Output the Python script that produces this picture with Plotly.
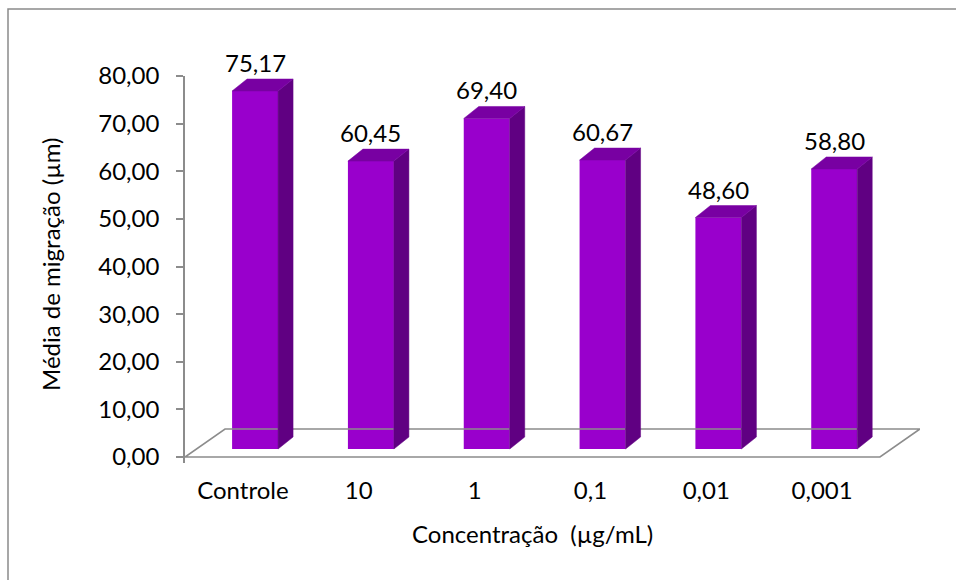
import plotly.graph_objects as go

# ---- data ----
categories = ["Controle", "10", "1", "0,1", "0,01", "0,001"]
values = [75.17, 60.45, 69.40, 60.67, 48.60, 58.80]
y_ticks = [0, 10, 20, 30, 40, 50, 60, 70, 80]

# ---- geometry (style constants, in axis units) ----
CAT_PX = 115.8          # px per category
Y_PX = 4.7625           # px per y unit
BAR_SHIFT = 0.105       # front face shift to the right (depth)
BAR_W = 0.397
BASE = 1.68             # bar front bottom above floor front edge
DX = 15 / CAT_PX        # bar depth, x
DY = 12 / Y_PX          # bar depth, y
FDX = 40 / CAT_PX       # floor depth, x
FDY = 28 / Y_PX         # floor depth, y
XMAX = 6 + FDX
YMIN = -1.26
YMAX = 80

FRONT = "#9900CC"
TOP = "#7800A2"
SIDE = "#600082"
GRAY = "#8C8C8C"
FONT = "Lato"
FS = 24

def fmt(v):
    return f"{v:.2f}".replace(".", ",")

fig = go.Figure()

# floor (3D base wall outline)
n = len(categories)
fig.add_trace(go.Scatter(
    x=[0, n, n + FDX, FDX, 0],
    y=[0, 0, FDY, FDY, 0],
    mode="lines", line=dict(color=GRAY, width=1.6),
    hoverinfo="skip", showlegend=False))

# side and top faces
for i, v in enumerate(values):
    xl = i + 0.5 + BAR_SHIFT - BAR_W / 2
    xr = i + 0.5 + BAR_SHIFT + BAR_W / 2
    t = BASE + v
    fig.add_trace(go.Scatter(
        x=[xr, xr + DX, xr + DX, xr, xr],
        y=[BASE, BASE + DY, t + DY, t, BASE],
        fill="toself", fillcolor=SIDE, mode="lines",
        line=dict(color=SIDE, width=0.5),
        hoverinfo="skip", showlegend=False))
    fig.add_trace(go.Scatter(
        x=[xl, xl + DX, xr + DX, xr, xl],
        y=[t, t + DY, t + DY, t, t],
        fill="toself", fillcolor=TOP, mode="lines",
        line=dict(color=TOP, width=0.5),
        hoverinfo="skip", showlegend=False))

# front faces
fig.add_trace(go.Bar(
    x=[i + 0.5 + BAR_SHIFT for i in range(n)],
    y=values, base=BASE, width=BAR_W,
    marker=dict(color=FRONT, line=dict(width=0)),
    hoverinfo="skip", showlegend=False))

# data labels
for i, v in enumerate(values):
    fig.add_annotation(
        x=i + 0.5 + BAR_SHIFT, y=BASE + v + DY,
        xref="x", yref="y", text=fmt(v), showarrow=False,
        yanchor="bottom", yshift=0,
        font=dict(family=FONT, size=FS, color="black"))

# axis titles
fig.add_annotation(
    x=(532 - 185) / 735, y=(463 - 533) / 387, xref="paper", yref="paper",
    text="Concentração  (µg/mL)", showarrow=False,
    xanchor="center", yanchor="middle",
    font=dict(family=FONT, size=FS, color="black"))
fig.add_annotation(
    x=(50 - 185) / 735, y=(463 - 265) / 387, xref="paper", yref="paper",
    text="Média de migração (µm)", showarrow=False, textangle=-90,
    xanchor="center", yanchor="middle",
    font=dict(family=FONT, size=FS, color="black"))

# outer chart border
fig.add_shape(type="rect", xref="paper", yref="paper",
              x0=(8 - 185) / 735, x1=(990 - 185) / 735,
              y0=(463 - 600) / 387, y1=(463 - 9) / 387,
              line=dict(color="#8A8A8A", width=1.5), fillcolor="rgba(0,0,0,0)",
              layer="below")

fig.update_layout(
    width=956, height=580,
    margin=dict(l=185, r=956 - 185 - 735, t=76, b=580 - 463),
    paper_bgcolor="white", plot_bgcolor="white",
    separators=",.",
    font=dict(family=FONT, size=FS, color="black"),
    showlegend=False,
    xaxis=dict(range=[0, XMAX], tickvals=[i + 0.5 for i in range(n)],
               ticktext=categories, ticks="", showline=False,
               showgrid=False, zeroline=False, ticklabelstandoff=11,
               tickfont=dict(family=FONT, size=FS, color="black")),
    xaxis2=dict(range=[0, XMAX], overlaying="x", anchor="y", side="bottom",
                tickvals=list(range(n + 1)), showticklabels=False,
                ticks="inside", ticklen=6, tickwidth=1.6, tickcolor=GRAY,
                showline=False, showgrid=False, zeroline=False),
    yaxis=dict(range=[YMIN, YMAX], tickvals=y_ticks, tickformat=".2f",
               ticks="outside", ticklen=7, tickwidth=1.6, tickcolor=GRAY,
               showline=True, linecolor=GRAY, linewidth=1.6,
               showgrid=False, zeroline=False, ticklabelstandoff=12,
               tickfont=dict(family=FONT, size=FS, color="black")),
)

fig.write_html("out.html", config={"displayModeBar": False},
               post_script="document.body.style.margin='0';")
